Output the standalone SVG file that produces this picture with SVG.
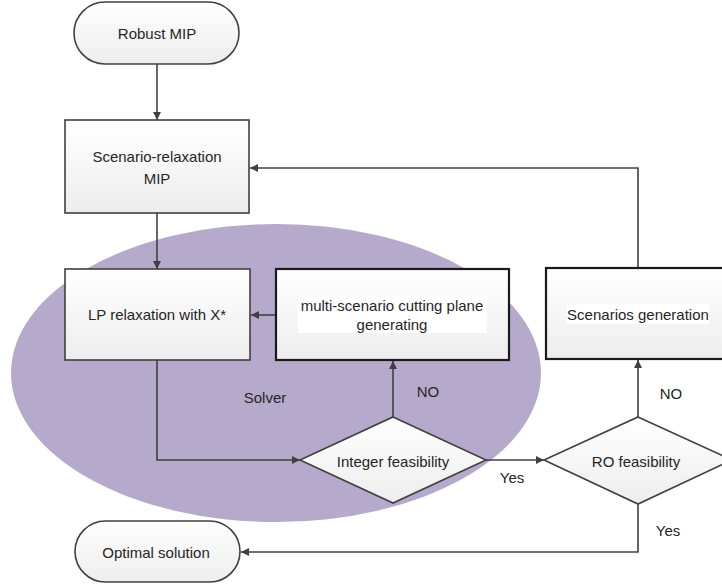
<svg xmlns="http://www.w3.org/2000/svg" width="722" height="587" viewBox="0 0 722 587">
<defs>
<linearGradient id="g" x1="0" y1="0" x2="0" y2="1">
<stop offset="0" stop-color="#ffffff"/>
<stop offset="1" stop-color="#ededed"/>
</linearGradient>
<marker id="ah" viewBox="0 0 10 10" refX="10" refY="5" markerWidth="8" markerHeight="8" markerUnits="userSpaceOnUse" orient="auto">
<path d="M0,0 L10,5 L0,10 z" fill="#404040"/>
</marker>
<style>
.n{fill:url(#g);stroke:#404040;stroke-width:1.6}
.nb{fill:url(#g);stroke:#1a1a1a;stroke-width:2.2}
.t{font-family:"Liberation Sans",Arial,sans-serif;font-size:15px;fill:#262626;text-anchor:middle;dominant-baseline:central}
.c{fill:none;stroke:#404040;stroke-width:1.6}
.bg{fill:#ffffff}
</style>
</defs>
<rect width="722" height="587" fill="#ffffff"/>
<ellipse id="solver-area" cx="276" cy="373" rx="265" ry="149" fill="#b5aacb"/>
<text class="t" x="265" y="397">Solver</text>
<g id="connectors">
<path class="c" d="M157,64 V120" marker-end="url(#ah)"/>
<path class="c" d="M157,213 V269" marker-end="url(#ah)"/>
<path class="c" d="M276,315 H251" marker-end="url(#ah)"/>
<path class="c" d="M157,360 V460 H300" marker-end="url(#ah)"/>
<path class="c" d="M393,417 V361" marker-end="url(#ah)"/>
<path class="c" d="M486,460 H544" marker-end="url(#ah)"/>
<path class="c" d="M638,417 V360" marker-end="url(#ah)"/>
<path class="c" d="M638,268 V168 H250" marker-end="url(#ah)"/>
<path class="c" d="M638,504 V552 H241" marker-end="url(#ah)"/>
<text class="t" x="428" y="391">NO</text>
<text class="t" x="671" y="393">NO</text>
<text class="t" x="512" y="477">Yes</text>
<text class="t" x="668" y="530">Yes</text>
</g>
<g id="robust-mip">
<rect class="n" x="74" y="2" width="165" height="62" rx="31" ry="31"/>
<text class="t" x="157" y="33">Robust MIP</text>
</g>
<g id="scenario-relaxation">
<rect class="n" x="65" y="120" width="184" height="93"/>
<text class="t" x="157" y="156">Scenario-relaxation</text>
<text class="t" x="157" y="178">MIP</text>
</g>
<g id="lp-relaxation">
<rect class="n" x="65" y="269" width="185" height="91"/>
<text class="t" x="157" y="314">LP relaxation with X*</text>
</g>
<g id="cutting-plane">
<rect class="nb" x="276" y="269" width="233" height="91"/>
<rect class="bg" x="298" y="296" width="189" height="37"/>
<text class="t" x="392" y="305">multi-scenario cutting plane</text>
<text class="t" x="392" y="324">generating</text>
</g>
<g id="scenarios-generation">
<rect class="nb" x="546" y="268" width="190" height="91"/>
<rect class="bg" x="567" y="304" width="142" height="20"/>
<text class="t" x="638" y="314">Scenarios generation</text>
</g>
<g id="integer-feasibility">
<path class="n" d="M393,417 L486,460 L393,503 L300,460 Z"/>
<text class="t" x="393" y="461">Integer feasibility</text>
</g>
<g id="ro-feasibility">
<path class="n" d="M638,417 L732,460 L638,504 L544,460 Z"/>
<text class="t" x="636" y="461">RO feasibility</text>
</g>
<g id="optimal-solution">
<rect class="n" x="75" y="521" width="165" height="61" rx="30.5" ry="30.5"/>
<text class="t" x="156" y="552">Optimal solution</text>
</g>
</svg>
